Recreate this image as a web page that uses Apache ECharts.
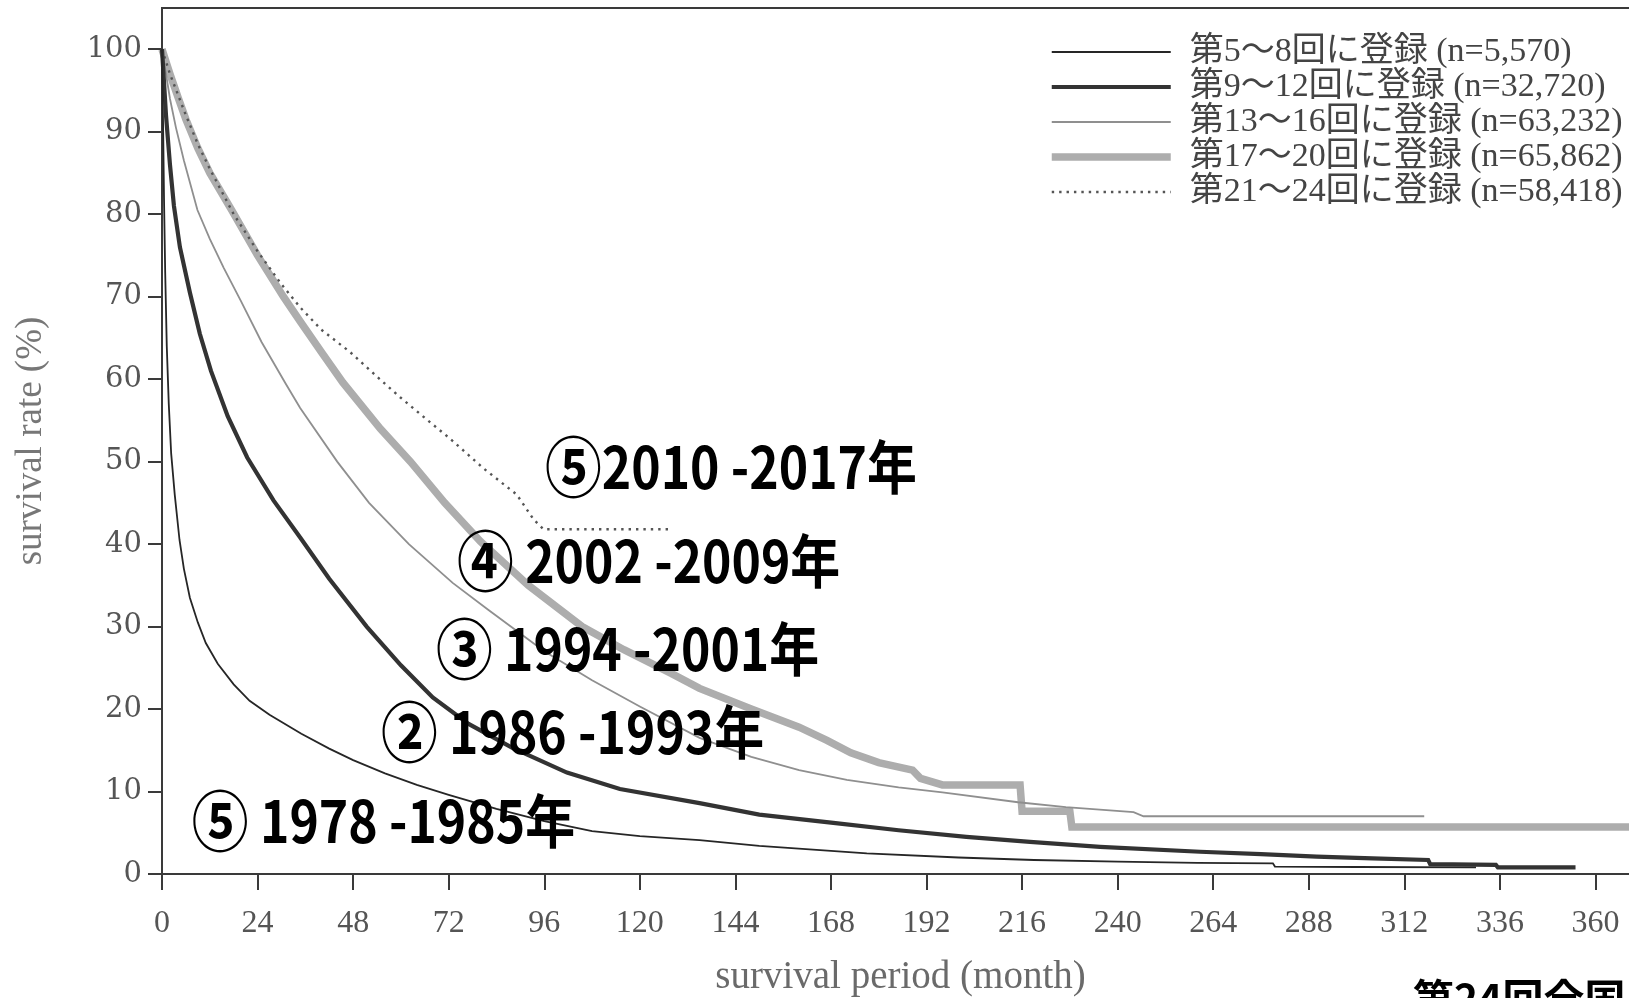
<!DOCTYPE html>
<html>
<head>
<meta charset="utf-8">
<script src="https://cdn.jsdelivr.net/npm/echarts@6/dist/echarts.min.js"></script>
<style>
html,body{margin:0;padding:0;background:#fff;}
#chart{width:1629px;height:998px;}
</style>
</head>
<body>
<div id="chart"></div>
<script>
// ---- data (months, survival rate %) ----
const seriesNames = [
  '第5〜8回に登録 (n=5,570)',
  '第9〜12回に登録 (n=32,720)',
  '第13〜16回に登録 (n=63,232)',
  '第17〜20回に登録 (n=65,862)',
  '第21〜24回に登録 (n=58,418)'
];
const months1 = [0,0.3,0.5,0.8,1.2,1.7,2.3,3.2,4.4,5.5,7,9,11,14,18,22,27,35,42,48,56,64,72,84,96,108,120,135,150,177,200,219,240,260,279,279.5,300,330];
const rates1  = [100,90,82,73,64,57,51,46,40.5,37,33.5,30.5,28,25.5,23,21,19.3,17,15.2,13.8,12.2,10.8,9.6,7.9,6.4,5.2,4.6,4.1,3.4,2.5,2.0,1.7,1.5,1.35,1.3,0.9,0.85,0.8];

const months2 = [0,0.5,1,2,3,4.5,7,9.5,12.3,16.5,21.4,28,34.7,42,51.4,60,68,77,88,101.7,115,135,150,168.6,185,202,218,235.6,260.7,276,290,304,318,318.5,335,335.5,355];
const rates2  = [100,96,92,86,81,76,70.5,65.5,61,55.5,50.5,45.3,40.8,35.8,30,25.3,21.4,18.2,15.3,12.3,10.3,8.6,7.2,6.2,5.3,4.5,3.9,3.3,2.7,2.4,2.1,1.9,1.7,1.2,1.1,0.8,0.8];

const months3 = [0,1,2,3.5,5.5,8.9,12,15.5,19.8,25,31,34.7,44,52,62,73,82,96,108,120,135,148,160,172,185,196,215,227,244,246.5,317];
const rates3  = [100,97,94,90.5,86.5,80.5,77,73.5,69.5,64.5,59.5,56.5,50,45,40,35.3,32,27,23.5,20.3,16.5,14.2,12.6,11.4,10.5,9.9,8.7,8.1,7.5,7.0,7.0];

const months4 = [0,1,2,4,6,9,12,17.5,24,30.5,34.7,40,45.4,54.8,62.4,71,80,92,105.5,116,128,135,148,160,167,173,180,188.5,190.5,196,215.5,216,228,228.5,384];
const rates4  = [100,98.5,97,94.2,91.5,88,85,80.5,75,70,67,63.3,59.6,54,50,45,40.3,35,30,27.2,24.3,22.5,20,17.8,16.2,14.7,13.5,12.6,11.6,10.8,10.8,7.6,7.6,5.7,5.7];

const months5 = [0,1,2,4,6,9,12,18,24,30,34.7,40,47.2,54,59.8,66,72.3,80.7,89.1,93.3,95.8,127.6];
const rates5  = [100,98.5,97,94.5,92,88.5,85.5,80,75.5,71.5,68.7,66,63.3,60.3,57.8,55.3,52.8,49.2,46,43,41.8,41.8];

const xTicks = [0,24,48,72,96,120,144,168,192,216,240,264,288,312,336,360];
const yTicks = [0,10,20,30,40,50,60,70,80,90,100];

// annotations: circled number, text, left-edge month, centre rate
const annoMarks  = ['⑤','④','③','②','⑤'];
const annoTexts  = ['2010 -2017年',' 2002 -2009年',' 1994 -2001年',' 1986 -1993年',' 1978 -1985年'];
const annoMonths = [96.2, 74.1, 68.8, 55.0, 7.5];
const annoRates  = [49.3, 37.9, 27.3, 17.2, 6.4];

const zip = (a, b) => a.map((m, i) => [m, b[i]]);

const styles = [
  {color:'#262626', width:1.8, type:'solid', z:5},
  {color:'#333333', width:4.2, type:'solid', z:4},
  {color:'#8f8f8f', width:1.8, type:'solid', z:3},
  {color:'#adadad', width:7.5, type:'solid', z:1},
  {color:'#555555', width:2.4, type:[2.4,5], z:2}
];
const allData = [zip(months1,rates1), zip(months2,rates2), zip(months3,rates3), zip(months4,rates4), zip(months5,rates5)];

const chart = echarts.init(document.getElementById('chart'), null, {renderer:'canvas'});
const serif = '"Liberation Serif", "Noto Sans CJK JP", serif';

const option = {
  animation: false,
  backgroundColor: '#ffffff',
  grid: {
    left: 162, top: 8, right: -62, bottom: 124,
    containLabel: false, outerBoundsMode: 'none',
    show: true, borderColor: '#3a3a3a', borderWidth: 2, backgroundColor: 'transparent'
  },
  legend: {
    orient: 'vertical',
    left: 1043, top: 30,
    itemWidth: 119, itemHeight: 14, itemGap: 1,
    textStyle: {fontFamily: serif, fontSize: 34, color: '#444', lineHeight: 31, padding: [0,0,0,14]},
    data: seriesNames.map((n, i) => ({
      name: n,
      lineStyle: {color: styles[i].color, width: styles[i].width, type: styles[i].type},
      itemStyle: {opacity: 0}
    }))
  },
  xAxis: {
    type: 'value', min: 0, max: 384, interval: 24,
    name: 'survival period (month)', nameLocation: 'middle', nameGap: 84,
    nameTextStyle: {fontFamily: serif, fontSize: 39, color: '#6a6a6a', padding: [0, 52, 0, 0]},
    axisLine: {show: true, lineStyle: {color: '#3a3a3a', width: 2}},
    axisTick: {show: true, length: 16, inside: false, lineStyle: {color: '#3a3a3a', width: 2}, customValues: xTicks},
    axisLabel: {fontFamily: serif, fontSize: 32, color: '#555', margin: 34, customValues: xTicks},
    splitLine: {show: false}
  },
  yAxis: {
    type: 'value', min: 0, max: 105, interval: 10,
    name: 'survival rate (%)', nameLocation: 'middle', nameRotate: 90, nameGap: 112,
    nameTextStyle: {fontFamily: serif, fontSize: 37, color: '#777'},
    axisLine: {show: true, lineStyle: {color: '#3a3a3a', width: 2}},
    axisTick: {show: true, length: 14, inside: false, lineStyle: {color: '#3a3a3a', width: 2}, customValues: yTicks},
    axisLabel: {fontFamily: '"DejaVu Serif", serif', fontSize: 29, color: '#555', margin: 20, customValues: yTicks},
    splitLine: {show: false}
  },
  series: allData.map((d, i) => ({
    name: seriesNames[i],
    type: 'line',
    data: d,
    symbol: 'none',
    showSymbol: false,
    z: styles[i].z,
    lineStyle: {color: styles[i].color, width: styles[i].width, type: styles[i].type, cap: 'butt', join: 'miter'},
    itemStyle: {color: styles[i].color},
    emphasis: {disabled: true}
  }))
};
chart.setOption(option);

// place annotation texts through the grid's own scales
const gfx = annoTexts.map((t, i) => {
  const p = chart.convertToPixel({gridIndex: 0}, [annoMonths[i], annoRates[i]]);
  return {
    type: 'text', x: p[0], y: p[1], scaleX: 0.86, z: 100,
    style: {
      text: '{c|' + annoMarks[i] + '}' + t,
      fontFamily: '"Noto Sans CJK JP", sans-serif', fontWeight: 'bold', fontSize: 58,
      fill: '#000', align: 'left', verticalAlign: 'middle',
      rich: {c: {fontFamily: '"Noto Sans CJK JP", sans-serif', fontWeight: 'bold', fontSize: 66, fill: '#000'}}
    }
  };
});
gfx.push({
  type: 'text', x: 1413, y: 978, z: 100,
  style: {text: '第24回全国', fontFamily: '"Noto Sans CJK JP", sans-serif', fontWeight: 'bold', fontSize: 41,
          fill: '#000', align: 'left', verticalAlign: 'top'}
});
chart.setOption({graphic: gfx});
</script>
</body>
</html>
